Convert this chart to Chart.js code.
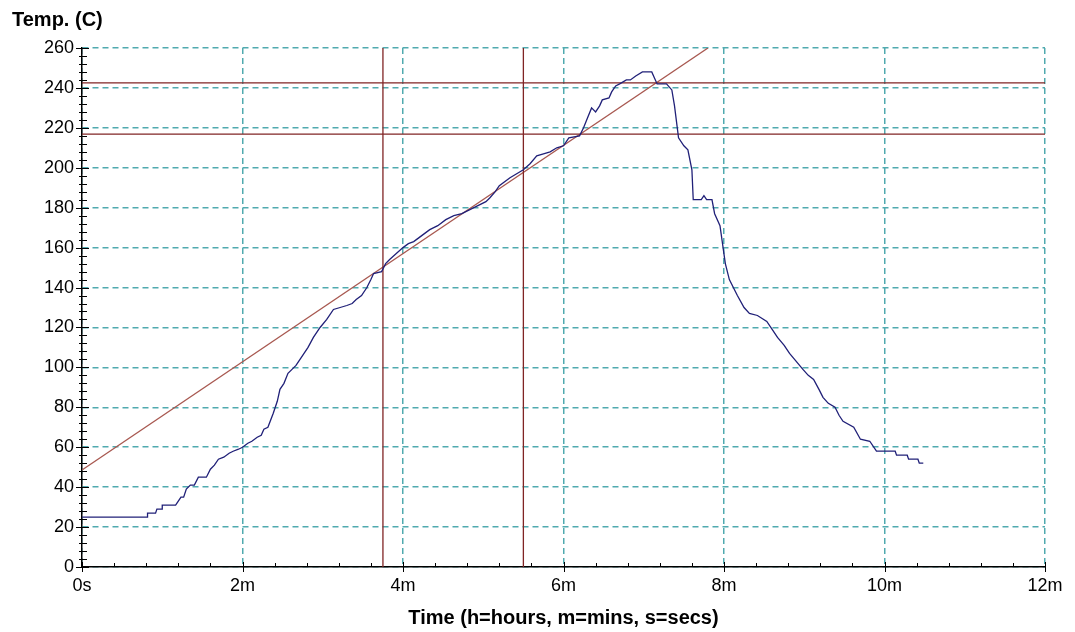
<!DOCTYPE html>
<html lang="en">
<head>
  <meta charset="UTF-8" />
  <title>Temperature profile</title>
  <script src="https://cdn.jsdelivr.net/npm/chart.js"></script>
  <style>
    html, body { margin: 0; padding: 0; background: #fff; }
    #chart { display: block; }
  </style>
</head>
<body>
  <canvas id="chart" width="1075" height="632"></canvas>
  <script>
    // logged readings: time in seconds, temperature in C
    const timeSecs = [0, 49, 49, 55, 56, 60, 60, 70, 72, 74, 76, 78, 81, 84, 87, 93, 96, 99, 102, 106,
      110, 113, 117, 120, 124, 127, 131, 134, 136, 139, 143, 146, 148, 151, 154, 157, 160, 164, 169, 173,
      178, 183, 188, 193, 198, 202, 205, 209, 213, 216, 218, 224, 227, 230, 235, 240, 244, 248, 252, 256,
      260, 266, 272, 278, 284, 290, 296, 302, 305, 309, 312, 316, 320, 325, 330, 335, 340, 345, 350, 355,
      360, 364, 372, 375, 378, 381, 384, 387, 389, 394, 396, 399, 402, 407, 410, 414, 419, 426, 428, 430,
      437, 441, 443, 446, 450, 453, 456, 457, 463, 465, 467, 471, 473, 477, 481, 484, 490, 495, 499, 505,
      512, 516, 520, 525, 529, 534, 539, 543, 547, 551, 554, 558, 563, 566, 569, 577, 582, 589, 594, 608,
      609, 617, 618, 625, 626, 629];
    const tempC = [25, 25, 27, 27, 29, 29, 31, 31, 33, 35, 35, 39, 41, 41, 45, 45, 49, 51, 54, 55,
      57, 58, 59, 60, 62, 63, 65, 66, 69, 70, 77, 83, 89, 92, 97, 99, 101, 105, 110, 115,
      120, 124, 129, 130, 131, 132, 134, 136, 140, 144, 147, 148, 152, 154, 157, 160, 162, 163, 165, 167,
      169, 171, 174, 176, 177, 179, 181, 183, 185, 188, 191, 193, 195, 197, 199, 202, 206, 207, 208, 210,
      211, 215, 216, 220, 225, 230, 228, 231, 234, 235, 238, 241, 242, 244, 244, 246, 248, 248, 245, 242,
      242, 239, 231, 215, 211, 209, 199, 184, 184, 186, 184, 184, 177, 171, 152, 144, 136, 130, 127, 126,
      123, 119, 115, 111, 107, 103, 99, 96, 94, 89, 85, 82, 80, 76, 73, 70, 64, 63, 58, 58,
      56, 56, 54, 54, 52, 52];

    // fitted ramp line (start / end)
    const rampTime = [0, 468];
    const rampTemp = [48.6, 260];

    // marker lines
    const markerTemps = [242.5, 216.9];
    const markerTimes = [225, 330];

    const xTicks = [0, 120, 240, 360, 480, 600, 720];
    const yTicks = [0, 20, 40, 60, 80, 100, 120, 140, 160, 180, 200, 220, 240, 260];

    const FONT = "'Liberation Sans', Arial, sans-serif";
    const gridColor = 'rgb(80,170,175)';
    const maroon = 'rgb(128,36,36)';

    const tempPoints = timeSecs.map((t, i) => ({ x: t, y: tempC[i] }));
    const rampPoints = rampTime.map((t, i) => ({ x: t, y: rampTemp[i] }));

    const datasets = [
      { data: tempPoints, borderColor: 'rgb(32,32,120)', borderWidth: 1.3, pointRadius: 0, tension: 0 }
    ];
    markerTemps.forEach(v => datasets.push({
      data: [{ x: xTicks[0], y: v }, { x: xTicks[xTicks.length - 1], y: v }],
      borderColor: maroon, borderWidth: 1.3, pointRadius: 0
    }));
    markerTimes.forEach(t => datasets.push({
      data: [{ x: t, y: yTicks[0] }, { x: t, y: yTicks[yTicks.length - 1] }],
      borderColor: maroon, borderWidth: 1.3, pointRadius: 0
    }));
    datasets.push({ data: rampPoints, borderColor: 'rgb(168,88,80)', borderWidth: 1.3, pointRadius: 0 });

    // small tick marks along both axes
    const axisTicks = {
      id: 'axisTicks',
      afterDraw(chart) {
        const { ctx, scales: { x, y }, chartArea } = chart;
        ctx.save();
        ctx.strokeStyle = '#000';
        ctx.lineWidth = 1;
        ctx.beginPath();
        for (let t = 0; t <= 720; t += 24) {
          const px = Math.round(x.getPixelForValue(t)) + 0.5;
          const major = t % 120 === 0;
          ctx.moveTo(px, chartArea.bottom - (major ? 5 : 4));
          ctx.lineTo(px, chartArea.bottom + (major ? 5 : 0));
        }
        for (let v = 0; v <= 260; v += 4) {
          const py = Math.round(y.getPixelForValue(v)) + 0.5;
          const major = v % 20 === 0;
          ctx.moveTo(chartArea.left - (major ? 6 : 3), py);
          ctx.lineTo(chartArea.left + (major ? 7 : 5), py);
        }
        ctx.stroke();
        ctx.restore();
      }
    };

    new Chart(document.getElementById('chart'), {
      type: 'line',
      data: { datasets },
      options: {
        responsive: false,
        animation: false,
        layout: { padding: { left: 12, right: 30, top: 0, bottom: 0 } },
        plugins: {
          legend: { display: false },
          tooltip: { enabled: false },
          title: {
            display: true, text: 'Temp. (C)', align: 'start', color: '#000',
            font: { family: FONT, size: 20, weight: 'bold' },
            padding: { top: 8, bottom: 16 }
          }
        },
        scales: {
          x: {
            type: 'linear', min: 0, max: 720,
            afterFit: s => { s.height = 65; },
            afterBuildTicks: s => { s.ticks = xTicks.map(v => ({ value: v })); },
            ticks: {
              color: '#000', padding: 8, maxRotation: 0,
              font: { family: FONT, size: 18 },
              callback: v => v === 0 ? '0s' : (v / 60) + 'm'
            },
            grid: { color: gridColor, lineWidth: 1.5, drawTicks: false },
            border: { color: '#000', width: 1.5, dash: [6, 4] },
            title: {
              display: true, text: 'Time (h=hours, m=mins, s=secs)', color: '#000',
              font: { family: FONT, size: 20, weight: 'bold' },
              padding: { top: 0, bottom: 2 }
            }
          },
          y: {
            type: 'linear', min: 0, max: 260,
            afterFit: s => { s.width = 70; },
            afterBuildTicks: s => { s.ticks = yTicks.map(v => ({ value: v })); },
            ticks: { color: '#000', padding: 8, font: { family: FONT, size: 18 } },
            grid: { color: gridColor, lineWidth: 1.5, drawTicks: false },
            border: { color: '#000', width: 1.5, dash: [6, 4] }
          }
        }
      },
      plugins: [axisTicks]
    });
  </script>
</body>
</html>
